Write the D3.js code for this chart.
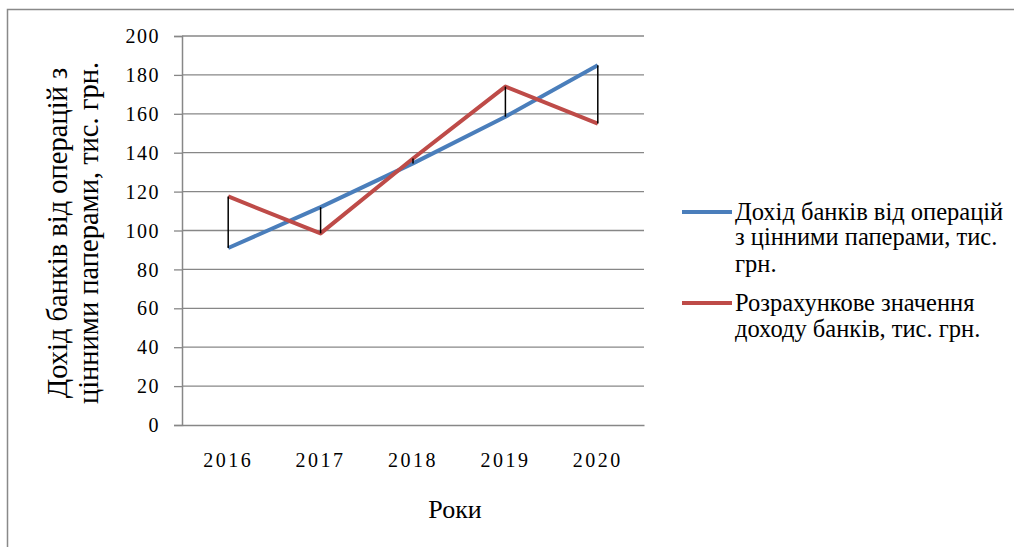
<!DOCTYPE html>
<html><head><meta charset="utf-8">
<script src="https://cdn.jsdelivr.net/npm/d3@7/dist/d3.min.js"></script>
<style>body{margin:0;background:#fff}svg{display:block}</style>
</head><body>
<script>
const years = ["2016","2017","2018","2019","2020"];
const actualIncome = [91, 112, 134.5, 158.5, 185];
const estimatedIncome = [117.5, 98.5, 137, 174, 155];
const yTicks = [0,20,40,60,80,100,120,140,160,180,200];
const seriesNames = [
  ["Дохід банків від операцій","з цінними паперами, тис.","грн."],
  ["Розрахункове значення","доходу банків, тис. грн."]
];
const seriesColors = ["#4A7EBB","#BE4B48"];
const yTitle = ["Дохід банків від операцій з","цінними паперами, тис. грн."];
const xTitle = "Роки";

const FF='Liberation Serif';
const W=1014,H=547;
const svg=d3.select("body").append("svg").attr("width",W).attr("height",H)
  .attr("font-family",FF);
svg.append("rect").attr("width",W).attr("height",H).attr("fill","#fff");
svg.append("rect").attr("x",7.5).attr("y",9.5).attr("width",1030).attr("height",560)
  .attr("fill","none").attr("stroke","#898989").attr("stroke-width",1.5);

const L=182,R=644,T=36,B=425;
const x=d3.scaleBand().domain(years).range([L,R]).padding(0);
const y=d3.scaleLinear().domain([0,200]).range([B,T]);
const cx=d=>x(d)+x.bandwidth()/2;

svg.append("g").selectAll("line").data(yTicks.filter(v=>v>0)).join("line")
  .attr("x1",L).attr("x2",R).attr("y1",d=>y(d)).attr("y2",d=>y(d))
  .attr("stroke","#878787").attr("stroke-width",1.3);

const yAxis=d3.axisLeft(y).tickValues(yTicks).tickSize(8).tickPadding(14).tickFormat(d3.format("d"));
const gy=svg.append("g").attr("transform",`translate(${L},0)`).call(yAxis)
  .attr("font-family",FF).attr("font-size",20);
gy.select(".domain").attr("stroke","#878787").attr("stroke-width",1.5);
gy.selectAll(".tick line").attr("stroke","#878787").attr("stroke-width",1.3);
gy.selectAll(".tick text").attr("font-family",FF).attr("font-size",20)
  .attr("letter-spacing","1.5px").attr("fill","#000").attr("dy","0.33em");

const xAxis=d3.axisBottom(x).tickSize(0).tickPadding(42);
const gx=svg.append("g").attr("transform",`translate(0,${B})`).call(xAxis)
  .attr("font-family",FF).attr("font-size",20);
gx.select(".domain").attr("stroke","#878787").attr("stroke-width",1.5);
gx.selectAll(".tick text").attr("font-family",FF).attr("font-size",20)
  .attr("letter-spacing","2.5px").attr("fill","#000").attr("dy","0");

const line=d3.line().x((d,i)=>cx(years[i])).y(d=>y(d));
[actualIncome,estimatedIncome].forEach((s,k)=>{
  svg.append("path").datum(s).attr("d",line).attr("fill","none")
    .attr("stroke",seriesColors[k]).attr("stroke-width",4).attr("stroke-linejoin","round");
});
svg.append("g").selectAll("line").data(years).join("line")
  .attr("x1",d=>cx(d)).attr("x2",d=>cx(d))
  .attr("y1",(d,i)=>y(actualIncome[i])).attr("y2",(d,i)=>y(estimatedIncome[i]))
  .attr("stroke","#000").attr("stroke-width",1.5);

yTitle.forEach((t,i)=>{
  svg.append("text").attr("transform",`translate(${[67,98][i]},233) rotate(-90)`)
    .attr("text-anchor","middle").attr("font-family",FF).attr("font-size",28.5).attr("fill","#000").text(t);
});
svg.append("text").attr("x",455).attr("y",518).attr("text-anchor","middle")
  .attr("font-family",FF).attr("font-size",26).attr("fill","#000").text(xTitle);

const legY=[[212,[220,245,272]],[303,[311,337]]];
seriesNames.forEach((lines,k)=>{
  svg.append("line").attr("x1",682).attr("x2",732).attr("y1",legY[k][0]).attr("y2",legY[k][0])
    .attr("stroke",seriesColors[k]).attr("stroke-width",4);
  lines.forEach((t,j)=>{
    svg.append("text").attr("x",735).attr("y",legY[k][1][j]).attr("font-family",FF)
      .attr("font-size",24.5).attr("fill","#000").text(t);
  });
});
</script>
</body></html>
